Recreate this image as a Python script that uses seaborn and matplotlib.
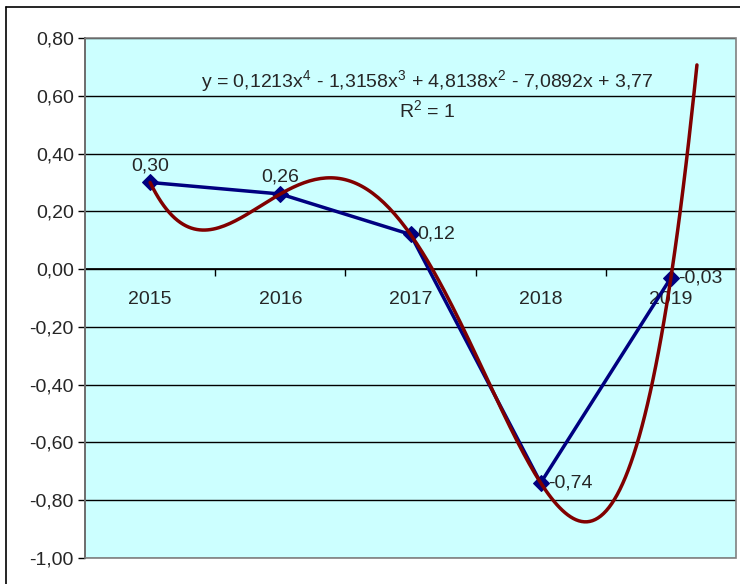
import numpy as np
import pandas as pd
import matplotlib
matplotlib.use("Agg")
import matplotlib.pyplot as plt
import seaborn as sns
from matplotlib.patches import Rectangle
from matplotlib.lines import Line2D

# --- veriler ---
yillar = ["2015", "2016", "2017", "2018", "2019"]
degerler = [0.30, 0.26, 0.12, -0.74, -0.03]
y_ticks = [-1.0, -0.8, -0.6, -0.4, -0.2, 0.0, 0.2, 0.4, 0.6, 0.8]
denklem = "y = 0,1213x$^4$ - 1,3158x$^3$ + 4,8138x$^2$ - 7,0892x + 3,77"
r2_metni = "R$^2$ = 1"
ileri_tahmin = 0.2  # trend çizgisi ileriye uzatma (dönem)

sns.set_theme(style="white")
plt.rcParams["font.family"] = ["Liberation Sans", "DejaVu Sans"]
plt.rcParams["mathtext.fontset"] = "custom"
plt.rcParams["mathtext.rm"] = "Liberation Sans"

FS = 14

x = np.arange(1, len(degerler) + 1)
df = pd.DataFrame({"x": x, "deger": degerler})

# 4. derece polinom trend çizgisi (Excel gibi)
katsayi = np.polyfit(x, degerler, 4)
xt = np.linspace(1, len(degerler) + ileri_tahmin, 200)
trend = pd.DataFrame({"x": xt, "y": np.polyval(katsayi, xt)})

fig = plt.figure(figsize=(7.4, 5.84), dpi=100)
ax = fig.add_axes([85 / 740, 1 - 558 / 584, (736 - 85) / 740, (558 - 38) / 584])
ax.set_facecolor("#ccffff")

for yt in y_ticks:
    ax.axhline(yt, color="black", linewidth=1, zorder=1)

sns.lineplot(data=df, x="x", y="deger", ax=ax, color="#000080", linewidth=2.5,
             marker="D", markersize=8, markeredgecolor="#000080", zorder=3)
sns.lineplot(data=trend, x="x", y="y", ax=ax, color="#800000", linewidth=2.5, zorder=4)

ax.set_xlim(0.5, len(degerler) + 0.5)
ax.set_ylim(-1.0, 0.8)
ax.set_yticks(y_ticks)
ax.set_yticklabels([f"{v:.2f}".replace(".", ",") for v in y_ticks], fontsize=FS)
ax.tick_params(axis="y", left=True, length=5, width=1, color="black", pad=3)

# x ekseni 0 çizgisinde
ax.spines["bottom"].set_position(("data", 0))
ax.spines["bottom"].set_color("black")
ax.spines["left"].set_color("black")
ax.spines["top"].set_visible(False)
ax.spines["right"].set_visible(False)
ax.set_xticks(x)
ax.set_xticklabels(yillar, fontsize=FS)
ax.set_xticks(np.arange(1.5, len(degerler), 1), minor=True)
ax.tick_params(axis="x", which="major", bottom=True, length=0, pad=16)
ax.tick_params(axis="x", which="minor", bottom=True, length=5, width=1, color="black")
ax.set_xlabel("")
ax.set_ylabel("")

# çizim alanı çerçevesi
ax.add_patch(Rectangle((0, 0), 1, 1, transform=ax.transAxes, fill=False,
                       edgecolor="#808080", linewidth=1.2, zorder=5, clip_on=False))

# veri etiketleri
konumlar = ["ust", "ust", "sag", "sag", "sag"]
for xi, v, k in zip(x, degerler, konumlar):
    etiket = f"{v:.2f}".replace(".", ",")
    if k == "ust":
        ax.annotate(etiket, (xi, v), xytext=(0, 6), textcoords="offset points",
                    ha="center", va="bottom", fontsize=FS, zorder=6)
    else:
        ax.annotate(etiket, (xi, v), xytext=(5, 0), textcoords="offset points",
                    ha="left", va="center", fontsize=FS, zorder=6)

ax.text((427 - 85) / 651, 1 - (82 - 38) / 520, denklem, transform=ax.transAxes,
        ha="center", va="center", fontsize=FS, zorder=6)
ax.text((427 - 85) / 651, 1 - (111 - 38) / 520, r2_metni, transform=ax.transAxes,
        ha="center", va="center", fontsize=FS, zorder=6)

# grafik dış çerçevesi
fig.add_artist(Line2D([6 / 740, 1.0], [1 - 7 / 584, 1 - 7 / 584], color="black", linewidth=1.2))
fig.add_artist(Line2D([6 / 740, 6 / 740], [0, 1 - 7 / 584], color="black", linewidth=1.2))

fig.savefig("out.png", dpi=100)
